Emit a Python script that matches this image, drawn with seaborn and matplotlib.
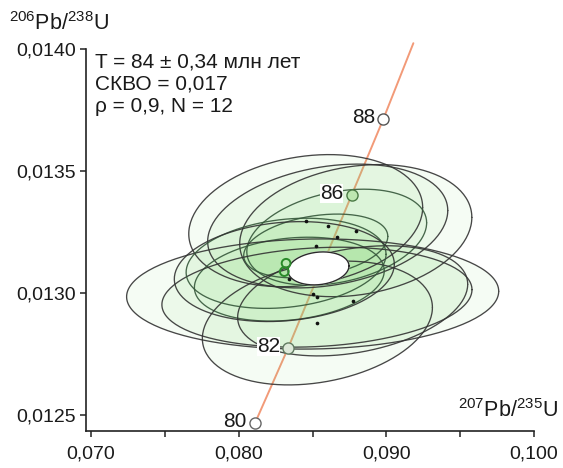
import matplotlib
matplotlib.use('Agg')
import matplotlib.pyplot as plt
import seaborn as sns
import pandas as pd
import numpy as np

# concordia ages and positions
conc_age = [80, 82, 84, 86, 88]
conc_x = [0.08111, 0.08336, 0.08550, 0.08765, 0.08979]
conc_y = [0.012467, 0.012776, 0.013089, 0.013402, 0.013713]
conc_end = (0.09183, 0.014025)
conc_labelled = [80, 82, 86, 88]

# analysis points: centre, 1-sigma half widths, error correlation
pt_x = [0.08454, 0.08603, 0.08793, 0.08664, 0.08522, 0.08343,
        0.08501, 0.08530, 0.08772, 0.08533, 0.08321, 0.08309]
pt_y = [0.013297, 0.013275, 0.013256, 0.013229, 0.013193, 0.013057,
        0.012996, 0.012983, 0.012968, 0.012877, 0.013122, 0.013088]
pt_sx = [0.00792, 0.00813, 0.00786, 0.00609, 0.00488, 0.00643,
         0.01260, 0.01050, 0.00779, 0.00779, 0.00677, 0.00745]
pt_sy = [0.000271, 0.000254, 0.000271, 0.000197, 0.000131, 0.000172,
         0.000226, 0.000205, 0.000226, 0.000254, 0.000185, 0.000205]
pt_rho = [0.2, 0.25, 0.2, 0.3, 0.3, 0.2, 0.05, 0.15, 0.3, 0.25, 0.2, 0.15]
pt_kind = ['dot'] * 10 + ['ring'] * 2

# concordia age ellipse
age_x, age_y, age_sx, age_sy, age_rho = 0.085406, 0.013101, 0.002065, 0.0000677, 0.15

x_ticks = [0.070, 0.080, 0.090, 0.100]
x_tick_labels = ['0,070', '0,080', '0,090', '0,100']
x_minor = [0.075, 0.085, 0.095]
y_ticks = [0.0125, 0.0130, 0.0135, 0.0140]
y_tick_labels = ['0,0125', '0,0130', '0,0135', '0,0140']

stats_lines = ['T = 84 ± 0,34 млн лет', 'СКВО = 0,017', 'ρ = 0,9, N = 12']

sns.set_theme(style='ticks')
plt.rcParams['font.family'] = ['Liberation Sans', 'DejaVu Sans']
plt.rcParams['mathtext.fontset'] = 'custom'
plt.rcParams['mathtext.rm'] = 'Liberation Sans'
plt.rcParams['mathtext.it'] = 'Liberation Sans'
TXT = '#1a1a1a'


def ellipse_xy(cx, cy, sx, sy, rho, n=200):
    t = np.linspace(0, 2 * np.pi, n)
    ex = cx + sx * np.cos(t)
    ey = cy + sy * (rho * np.cos(t) + np.sqrt(1 - rho ** 2) * np.sin(t))
    return ex, ey


fig = plt.figure(figsize=(5.63, 4.68), dpi=100)
ax = fig.add_axes([85.7 / 563, 1 - 430.5 / 468, (534 - 85.7) / 563, (430.5 - 49.3) / 468])

# concordia curve
conc = pd.DataFrame({'x': conc_x + [conc_end[0]], 'y': conc_y + [conc_end[1]]})
sns.lineplot(data=conc, x='x', y='y', sort=False, color='#f29a78', lw=1.4,
             ax=ax, zorder=1, clip_on=False)

# error ellipses
for i in range(len(pt_x)):
    ex, ey = ellipse_xy(pt_x[i], pt_y[i], pt_sx[i], pt_sy[i], pt_rho[i])
    ax.fill(ex, ey, color='#86dc78', alpha=0.075, lw=0, zorder=2)
    ec = '#35573a' if pt_sx[i] < 0.0070 else '#333333'
    ax.plot(ex, ey, color=ec, lw=0.95, alpha=0.9, zorder=3)

# concordia markers
fills = {80: 'white', 82: '#dde9d9', 84: 'white', 86: '#bde7b1', 88: 'white'}
edges = {80: '#666666', 82: '#607a60', 84: '#666666', 86: '#4a7a45', 88: '#555555'}
for a, cx, cy in zip(conc_age, conc_x, conc_y):
    ax.plot(cx, cy, 'o', ms=8, mfc=fills[a], mec=edges[a], mew=1.0, zorder=4, clip_on=False)
    if a in conc_labelled:
        ax.annotate(str(a), (cx, cy), xytext=(-6, 1), textcoords='offset points',
                    ha='right', va='center', fontsize=15, color=TXT, zorder=7,
                    bbox=dict(boxstyle='square,pad=0.0', fc='white', ec='none'))

# concordia age ellipse
ex, ey = ellipse_xy(age_x, age_y, age_sx, age_sy, age_rho)
ax.fill(ex, ey, color='white', zorder=5)
ax.plot(ex, ey, color='#2a2a2a', lw=1.0, zorder=5)

pts = pd.DataFrame({'x': pt_x, 'y': pt_y, 'kind': pt_kind})
sns.scatterplot(data=pts[pts.kind == 'dot'], x='x', y='y', color='#111111', s=7,
                linewidth=0, ax=ax, zorder=6)
sns.scatterplot(data=pts[pts.kind == 'ring'], x='x', y='y', facecolor='none',
                edgecolor='#2a8a2a', s=40, linewidth=1.4, ax=ax, zorder=6)

ax.set_xlim(0.06964, 0.100)
ax.set_ylim(0.012436, 0.0140)
ax.set_xticks(x_ticks)
ax.set_xticklabels(x_tick_labels)
ax.set_xticks(x_minor, minor=True)
ax.set_yticks(y_ticks)
ax.set_yticklabels(y_tick_labels)
ax.tick_params(axis='both', which='both', direction='out', length=4, width=1.1,
               color='#222222', labelsize=14, labelcolor=TXT)
ax.tick_params(axis='x', pad=7)
ax.tick_params(axis='y', pad=3)
ax.set_xlabel('')
ax.set_ylabel('')
sns.despine(ax=ax)
for s in ['left', 'bottom']:
    ax.spines[s].set_linewidth(1.2)
    ax.spines[s].set_color('#222222')
    ax.spines[s].set_zorder(10)
ax.grid(False)

fig.text(9 / 563, 1 - 30 / 468, r'$\mathregular{^{206}Pb/^{238}U}$', fontsize=15.5,
         color=TXT, ha='left', va='baseline')
fig.text(558 / 563, 1 - 416.7 / 468, r'$\mathregular{^{207}Pb/^{235}U}$', fontsize=15.5,
         color=TXT, ha='right', va='baseline')

for k, line in enumerate(stats_lines):
    fig.text(95 / 563, 1 - (67.7 + 22.2 * k) / 468, line, fontsize=15,
             color=TXT, ha='left', va='baseline')

fig.savefig('out.png', dpi=100, facecolor='white')
